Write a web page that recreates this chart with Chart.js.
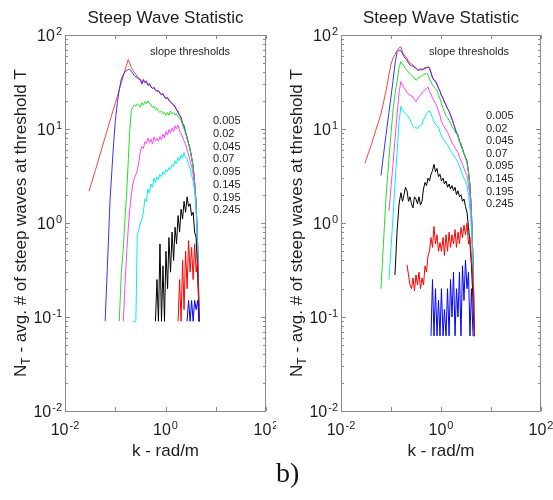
<!DOCTYPE html>
<html>
<head>
<meta charset="utf-8">
<script src="https://cdn.jsdelivr.net/npm/chart.js@4.4.0/dist/chart.umd.min.js"></script>
<style>
  body { margin: 0; background: #fff; }
  #wrap { position: relative; width: 553px; height: 500px; }
  canvas { position: absolute; top: 0; }
  #leftChart { left: 0; }
  #rightChart { left: 276px; }
  #panel { position: absolute; left: 276px; top: 459px; font-family: "Liberation Serif", "DejaVu Serif", serif; font-size: 28px; line-height: 28px; color: #111; }
</style>
</head>
<body>
<div id="wrap">
  <canvas id="leftChart" width="276" height="500"></canvas>
  <canvas id="rightChart" width="277" height="500"></canvas>
  <div id="panel">b)</div>
</div>
<script>
// wavenumber grid (rad/m) shared by both panels
const kValues = [
  0.030, 0.040, 0.050, 0.063, 0.079, 0.091, 0.100, 0.110, 0.120, 0.132,
  0.145, 0.158, 0.170, 0.182, 0.195, 0.209, 0.224, 0.240, 0.257, 0.275,
  0.295, 0.316, 0.339, 0.363, 0.389, 0.417, 0.447, 0.479, 0.513, 0.550,
  0.589, 0.631, 0.676, 0.724, 0.776, 0.832, 0.891, 0.955, 1.02, 1.10,
  1.17, 1.26, 1.35, 1.45, 1.55, 1.66, 1.78, 1.91, 2.04, 2.19,
  2.34, 2.51, 2.69, 2.88, 3.09, 3.31, 3.55, 3.80, 4.07, 4.37,
  4.68
];

const thresholdLabels = ['0.005', '0.02', '0.045', '0.07', '0.095', '0.145', '0.195', '0.245'];
const lineColors = ['#ff4040', '#3333ff', '#22e022', '#ff40ff', '#00eeee', '#000000', '#ff0000', '#0000ff'];

const xTickValues = [0.01, 0.1, 1, 10, 100];
const xTickLabels = [[0.01, '-2'], [1, '0'], [100, '2']];
const yTickValues = [0.01, 0.1, 1, 10, 100];
const yTickLabels = [[0.01, '-2'], [0.1, '-1'], [1, '0'], [10, '1'], [100, '2']];

// left panel: index into kValues where each series begins
const leftStart = [0, 3, 8, 10, 16, 31, 46, 52];
const left005 = [2.17, 3.6, 5.4, 8.2, 12.4, 15.9, 18.7, 22.2, 26.3, 31, 36.5, 43, 49, 55, 50, 45, 42, 40, 38, 36,
  35, 34, 31, 34, 32, 32.5, 29.5, 30.5, 28.5, 27, 28, 26, 25.5, 25.5, 24.5, 23, 24, 22, 21.5, 21.5,
  20.5, 19.5, 19, 18, 17.5, 16, 15.5, 14, 13.5, 11.5, 11, 9.2, 8.3, 7, 6.2, 5, 4.1, 2.7, 1.7, 0.6, 0.09];
const left02 = [0.09, 1.8, 6.0, 12, 19, 26, 34, 38, 41, 42, 43, 43, 41, 39, 37, 36, 35, 34, 33, 30,
  33, 31, 32, 29, 30, 28, 27, 27.5, 26, 25, 25.5, 24, 23, 23.5, 22, 21, 21.5, 20, 19.5, 18.5,
  18, 17, 16, 15, 14, 13, 11.5, 10.5, 9.2, 8.0, 7.0, 6.0, 5.0, 4.0, 2.7, 1.6, 0.6, 0.09];
const left045 = [0.09, 0.29, 0.54, 1.2, 2.3, 4.7, 9.8, 16, 17, 18, 17.5, 18.5, 18, 17, 19, 18, 19.5, 18.5, 20, 19,
  18, 17, 17.5, 16, 16.5, 15.5, 15, 15.5, 14.5, 15, 14, 15, 14, 15.5, 14.5, 15, 14, 14.5, 13.5, 13,
  12.5, 11, 10, 9.0, 7.8, 6.9, 5.9, 4.9, 3.9, 2.6, 1.5, 0.5, 0.09];
const left07 = [0.09, 0.25, 0.5, 0.9, 1.4, 2.0, 2.6, 3.0, 3.3, 3.6, 4.5, 5.8, 6.5, 6.2, 7.3, 7.0, 8.0, 7.2, 7.8, 6.9,
  8.2, 7.5, 8.0, 7.4, 8.3, 7.7, 8.8, 8.0, 9.4, 8.6, 9.9, 9.0, 10.2, 9.4, 10.8, 10.0, 11, 9.5, 9.0, 8.2,
  7.5, 6.8, 6.0, 5.3, 4.6, 4.0, 3.3, 2.5, 1.5, 0.5, 0.09];
const left095 = [0.09, 0.09, 0.09, 0.75, 0.85, 1.0, 1.1, 1.3, 1.8, 1.7, 2.3, 2.1, 2.6, 2.4, 3.0, 2.7, 3.1, 2.9, 3.3, 3.1,
  3.5, 3.3, 3.7, 3.5, 3.9, 3.7, 4.2, 4.0, 4.6, 4.3, 5.0, 4.6, 5.3, 4.9, 5.6, 5.0, 4.8, 4.2, 3.8, 3.2,
  2.8, 2.2, 1.4, 0.5, 0.09];
const left145 = [0.09, 0.25, 0.09, 0.6, 0.09, 0.35, 0.09, 0.5, 0.2, 0.7, 0.3, 0.8, 0.4, 0.9, 0.6, 1.2, 0.8, 1.4, 1.1, 1.7,
  1.3, 1.9, 1.5, 1.6, 1.2, 1.3, 0.8, 0.7, 0.3, 0.09];
const left195 = [0.09, 0.25, 0.09, 0.4, 0.12, 0.5, 0.2, 0.65, 0.3, 0.55, 0.25, 0.6, 0.3, 0.4, 0.09];
const left245 = [0.09, 0.15, 0.09, 0.15, 0.09, 0.15, 0.12, 0.15, 0.09];

// right panel
const rightStart = [0, 3, 3, 5, 5, 8, 15, 31];
const right005 = [4.3, 6.7, 9.8, 14.5, 25, 37.7, 49, 57, 62, 68, 73, 75, 66, 62, 59, 56, 53, 50, 49, 48,
  46, 45, 43, 43, 44, 43, 44, 45, 45, 46, 45, 40, 35.5, 33.5, 31.5, 30.5, 27, 25.5, 22.5, 21.5,
  19, 18, 16.3, 15.7, 13.8, 12.9, 11.2, 10.3, 9.0, 8.7, 7.3, 7.0, 6.1, 5.5, 4.9, 4.6, 3.5, 2.5, 1.26, 0.4, 0.063];
const right02 = [3.2, 8.5, 15, 22, 33, 49, 65, 69, 68, 63, 59, 56, 54, 50, 48, 47, 46.5, 45, 44, 42.5,
  42, 43, 42.5, 43, 44, 44.5, 45.5, 44, 39.5, 35, 33, 32.5, 29.5, 27.5, 25, 23, 21, 19.5, 18, 16.5,
  15.3, 14.2, 12.7, 11.4, 10.1, 9.2, 8.4, 7.5, 6.8, 6.2, 5.5, 5.0, 4.5, 3.5, 2.5, 1.3, 0.4, 0.063];
const right045 = [0.2, 1.8, 4.8, 8.9, 16, 23, 32, 45, 52, 49, 46.5, 44, 42, 40, 39, 37.5, 36, 35, 33, 34,
  35.5, 36, 37, 38, 38.5, 39, 38, 34, 31.6, 29.5, 28.2, 26.9, 25.7, 23, 21, 18.6, 16.6, 15.1, 13.8, 13.2,
  12.3, 11.5, 10.5, 10, 9.3, 8.9, 8.3, 7.4, 6.6, 6.0, 5.4, 4.9, 4.4, 3.4, 2.4, 1.26, 0.4, 0.063];
const right07 = [1.34, 2.4, 4.3, 7.7, 13.8, 24.5, 32, 29.5, 27.5, 26.3, 24.5, 23.4, 23, 22.4, 22, 20.4, 19.5, 20.9, 21.9, 23,
  24.5, 25, 26.3, 27, 28, 25, 23.4, 21.4, 20, 18.6, 17.4, 15.5, 13.8, 12, 11, 10.5, 9.8, 9.3, 8.5, 7.8,
  7.1, 6.8, 6.3, 6.0, 5.6, 5.0, 4.6, 4.2, 3.8, 3.5, 3.2, 2.5, 1.9, 1.1, 0.35, 0.063];
const right095 = [0.25, 0.54, 1.17, 2.6, 5.5, 12, 17.4, 15.8, 15.1, 14.5, 13.8, 13.5, 12.6, 11.5, 10.7, 10.2, 10.5, 10, 10.7, 11,
  11.2, 12.6, 13.5, 14.5, 15.1, 15.8, 14.5, 13.2, 12, 11.2, 10.7, 10.5, 9.3, 8.5, 7.9, 7.6, 7.1, 6.8, 6.3, 5.9,
  5.6, 5.2, 5.0, 4.7, 4.4, 4.0, 3.6, 3.3, 3.0, 2.8, 2.5, 2.0, 1.4, 0.8, 0.3, 0.063];
const right145 = [0.28, 0.8, 1.6, 2.1, 1.7, 2.0, 2.4, 2.2, 1.7, 1.9, 1.6, 1.45, 1.9, 1.8, 1.6, 1.9, 1.55, 1.7, 2.3, 2.7,
  2.5, 3.0, 2.8, 3.3, 3.6, 4.2, 3.5, 3.8, 3.1, 3.3, 2.8, 3.0, 2.6, 2.8, 2.4, 2.6, 2.3, 2.5, 2.2, 2.4,
  2.0, 2.2, 1.9, 2.0, 1.7, 1.8, 1.5, 1.3, 0.9, 0.6, 0.35, 0.15, 0.063];
const right195 = [0.36, 0.28, 0.22, 0.2, 0.26, 0.19, 0.28, 0.22, 0.3, 0.2, 0.26, 0.22, 0.35, 0.3, 0.45, 0.5, 0.7, 0.55, 0.92, 0.6,
  0.75, 0.5, 0.62, 0.5, 0.7, 0.45, 0.75, 0.5, 0.8, 0.55, 0.75, 0.6, 0.85, 0.55, 0.8, 0.6, 0.9, 0.7, 0.95, 0.75,
  1.0, 0.6, 0.7, 0.4, 0.25, 0.063];
const right245 = [0.063, 0.25, 0.063, 0.2, 0.063, 0.15, 0.063, 0.2, 0.063, 0.12, 0.063, 0.2, 0.063, 0.25, 0.1, 0.3, 0.063, 0.2, 0.1, 0.3,
  0.063, 0.35, 0.15, 0.4, 0.2, 0.3, 0.063, 0.2, 0.063, 0.063];

const TEXT = '#1e1e1e';
const AXIS = '#8a8a8a';
const SANS = '"Liberation Sans", Arial, sans-serif';

function drawPower(ctx, exp, x, y, align) {
  // "10" with superscript exponent; x is right edge or centre
  ctx.font = '16px ' + SANS;
  const wb = ctx.measureText('10').width;
  ctx.font = '11px ' + SANS;
  const we = ctx.measureText(exp).width;
  let left = align === 'right' ? x - wb - we - 1 : x - (wb + we + 1) / 2;
  ctx.textAlign = 'left';
  ctx.font = '16px ' + SANS;
  ctx.fillText('10', left, y);
  ctx.font = '11px ' + SANS;
  ctx.fillText(exp, left + wb + 1, y - 6);
}

const frame = {
  id: 'frame',
  afterDraw(chart, args, opts) {
    const { ctx, chartArea: a } = chart;
    const xs = chart.scales.x, ys = chart.scales.y;
    ctx.save();
    ctx.strokeStyle = AXIS;
    ctx.lineWidth = 1;
    ctx.strokeRect(a.left + 0.5, a.top + 0.5, a.right - a.left - 1, a.bottom - a.top);

    ctx.beginPath();
    xTickValues.forEach(v => {
      const px = Math.round(xs.getPixelForValue(v)) + 0.5;
      ctx.moveTo(px, a.bottom); ctx.lineTo(px, a.bottom - 4);
      ctx.moveTo(px, a.top); ctx.lineTo(px, a.top + 4);
    });
    yTickValues.forEach((v, i) => {
      for (let m = 1; m <= 9; m++) {
        if (i === yTickValues.length - 1 && m > 1) break;
        const py = Math.round(ys.getPixelForValue(v * m)) + 0.5;
        const len = m === 1 ? 5 : 3;
        ctx.moveTo(a.left, py); ctx.lineTo(a.left + len, py);
        ctx.moveTo(a.right, py); ctx.lineTo(a.right - len, py);
      }
    });
    ctx.stroke();

    ctx.fillStyle = TEXT;
    ctx.textBaseline = 'alphabetic';
    yTickLabels.forEach(([v, e]) => drawPower(ctx, e, a.left - 3, ys.getPixelForValue(v) + 6, 'right'));
    xTickLabels.forEach(([v, e]) => drawPower(ctx, e, xs.getPixelForValue(v), a.bottom + 24, 'center'));

    const cx = (a.left + a.right) / 2;
    ctx.textAlign = 'center';
    ctx.font = '17px ' + SANS;
    ctx.fillText('Steep Wave Statistic', cx, 23);
    ctx.fillText('k - rad/m', cx, a.bottom + 45);

    // y axis title with subscript
    ctx.save();
    ctx.translate(a.left - 39, (a.top + a.bottom) / 2);
    ctx.rotate(-Math.PI / 2);
    ctx.textAlign = 'left';
    const rest = ' - avg. # of steep waves at threshold T';
    ctx.font = '17px ' + SANS;
    const wN = ctx.measureText('N').width, wR = ctx.measureText(rest).width;
    ctx.font = '12px ' + SANS;
    const wT = ctx.measureText('T').width;
    let s = -(wN + wT + wR) / 2;
    ctx.font = '17px ' + SANS;
    ctx.fillText('N', s, 0);
    ctx.font = '12px ' + SANS;
    ctx.fillText('T', s + wN, 4);
    ctx.font = '17px ' + SANS;
    ctx.fillText(rest, s + wN + wT, 0);
    ctx.restore();

    ctx.textAlign = 'left';
    ctx.font = '11px ' + SANS;
    ctx.fillText('slope thresholds', a.left + opts.noteX, 55);
    thresholdLabels.forEach((t, i) => {
      ctx.fillText(t, a.left + opts.labelX, opts.labelY + i * opts.labelStep + 4);
    });
    ctx.restore();
  }
};

function makeChart(canvasId, starts, seriesList, pad, frameOpts) {
  const datasets = seriesList.map((vals, i) => ({
    label: thresholdLabels[i],
    data: vals.map((n, j) => ({ x: kValues[starts[i] + j], y: n })),
    borderColor: lineColors[i],
    borderWidth: 1,
    pointRadius: 0,
    fill: false,
    tension: 0,
    order: -i
  }));
  return new Chart(document.getElementById(canvasId), {
    type: 'line',
    data: { datasets },
    options: {
      responsive: false,
      animation: false,
      devicePixelRatio: 1,
      layout: { padding: pad },
      scales: {
        x: { type: 'logarithmic', min: 0.01, max: 100, display: false },
        y: { type: 'logarithmic', min: 0.01, max: 100, display: false }
      },
      plugins: {
        legend: { display: false },
        tooltip: { enabled: false },
        frame: frameOpts
      }
    },
    plugins: [frame]
  });
}

makeChart('leftChart', leftStart,
  [left005, left02, left045, left07, left095, left145, left195, left245],
  { left: 65, right: 10, top: 35, bottom: 89 },
  { noteX: 85, labelX: 148, labelY: 120, labelStep: 12.75 });

makeChart('rightChart', rightStart,
  [right005, right02, right045, right07, right095, right145, right195, right245],
  { left: 65, right: 12, top: 35, bottom: 89 },
  { noteX: 88, labelX: 145, labelY: 115, labelStep: 12.6 });
</script>
</body>
</html>
